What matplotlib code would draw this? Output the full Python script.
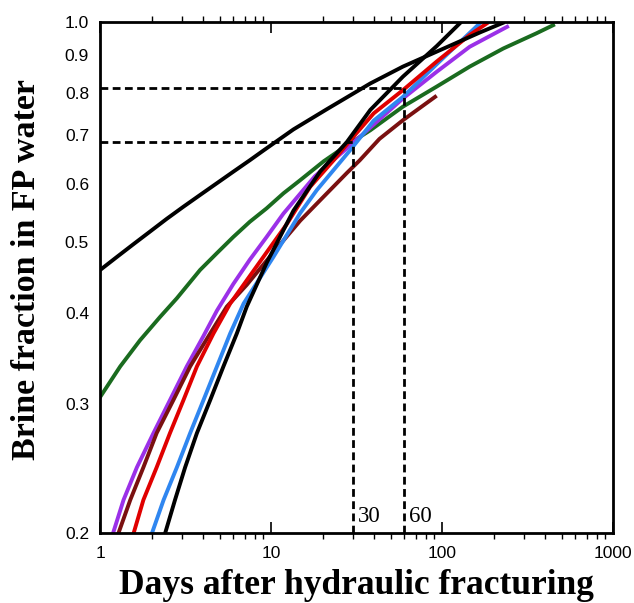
import numpy as np
import matplotlib.pyplot as plt
from matplotlib.ticker import FixedLocator, NullFormatter, LogLocator

# curves (days, brine fraction)
black1_x = [1.0, 1.25, 1.57, 1.96, 2.45, 3.07, 3.84, 4.82, 6.0, 7.5, 9.0, 13.5, 21.2, 38, 59, 93, 167, 226]
black1_y = [0.458, 0.477, 0.497, 0.517, 0.538, 0.559, 0.58, 0.602, 0.624, 0.647, 0.667, 0.713, 0.76,
            0.824, 0.869, 0.911, 0.968, 0.997]

green_x = [1.0, 1.31, 1.71, 2.24, 2.81, 3.84, 4.82, 6.0, 7.5, 9.4, 11.8, 14.7, 20.3, 29, 38, 59, 93,
           145, 228, 356, 446]
green_y = [0.307, 0.338, 0.367, 0.395, 0.419, 0.458, 0.483, 0.508, 0.533, 0.556, 0.583, 0.607, 0.645,
           0.683, 0.711, 0.766, 0.816, 0.869, 0.92, 0.965, 0.99]

purple_x = [1.19, 1.37, 1.64, 2.05, 2.56, 3.21, 4.02, 4.82, 6.0, 7.5, 9.4, 11.8, 18, 29, 59, 93, 145, 240]
purple_y = [0.2, 0.222, 0.246, 0.274, 0.304, 0.338, 0.372, 0.403, 0.438, 0.473, 0.508, 0.547, 0.615,
            0.678, 0.786, 0.855, 0.925, 0.985]

maroon_x = [1.28, 1.50, 1.79, 2.14, 2.68, 3.36, 4.4, 5.5, 7.2, 10.3, 14.8, 20, 27.8, 33, 43, 59, 91]
maroon_y = [0.2, 0.222, 0.246, 0.274, 0.304, 0.338, 0.375, 0.408, 0.437, 0.484, 0.535, 0.575, 0.622,
            0.647, 0.692, 0.734, 0.79]

red_x = [1.57, 1.79, 2.14, 2.56, 3.07, 3.68, 4.6, 5.76, 8.6, 12.4, 16.9, 23.2, 30.3, 39.8, 59, 93, 145, 183]
red_y = [0.2, 0.222, 0.246, 0.274, 0.304, 0.338, 0.375, 0.412, 0.47, 0.53, 0.595, 0.647, 0.697, 0.75,
         0.807, 0.883, 0.96, 0.996]

blue_x = [2.01, 2.35, 2.81, 3.36, 4.02, 4.82, 5.76, 6.9, 10.3, 14.8, 18.5, 29, 39.8, 59, 100, 167]
blue_y = [0.2, 0.222, 0.246, 0.274, 0.304, 0.338, 0.375, 0.412, 0.477, 0.548, 0.589, 0.668, 0.733,
          0.79, 0.89, 0.997]

black2_x = [2.4, 2.74, 3.14, 3.68, 4.4, 5.26, 6.3, 7.2, 9.4, 13.5, 19.4, 27.7, 38, 59, 93, 127]
black2_y = [0.2, 0.222, 0.246, 0.274, 0.304, 0.338, 0.375, 0.408, 0.468, 0.552, 0.625, 0.685, 0.758,
            0.842, 0.927, 0.996]

marks = [30, 60]
levels = [0.686, 0.812]

fig = plt.figure(figsize=(6.34, 6.03), dpi=100)
ax = fig.add_axes([0.158, 0.116, 0.809, 0.8475])

lw = 2.8
ax.plot(green_x, green_y, color='#1a6b1f', lw=lw)
ax.plot(purple_x, purple_y, color='#9b30e8', lw=lw)
ax.plot(maroon_x, maroon_y, color='#7a1010', lw=lw)
ax.plot(blue_x, blue_y, color='#2f86f0', lw=lw)
ax.plot(red_x, red_y, color='#e00000', lw=lw)
ax.plot(black2_x, black2_y, color='black', lw=lw)
ax.plot(black1_x, black1_y, color='black', lw=lw)

# dashed guide lines
for m, lev in zip(marks, levels):
    ax.plot([1, m], [lev, lev], color='black', ls=(0, (2.8, 1.6)), lw=2)
    ax.plot([m, m], [0.2, lev], color='black', ls=(0, (2.8, 1.6)), lw=2)
    ax.text(m * 1.07, 0.207, str(m), fontsize=16.5, family='Liberation Serif')

ax.set_xscale('log')
ax.set_yscale('log')
ax.set_xlim(1, 1000)
ax.set_ylim(0.2, 1.0)

yt = [0.2, 0.3, 0.4, 0.5, 0.6, 0.7, 0.8, 0.9, 1.0]
ax.yaxis.set_major_locator(FixedLocator(yt))
ax.yaxis.set_minor_locator(FixedLocator([]))
ax.set_yticks(yt)
ax.set_yticklabels(['%.1f' % v for v in yt], family='Liberation Sans', fontsize=12.5)
ax.yaxis.set_minor_formatter(NullFormatter())
ax.tick_params(axis='y', length=0, pad=8)

ax.set_xticks([1, 10, 100, 1000])
ax.set_xticklabels(['1', '10', '100', '1000'], family='Liberation Sans', fontsize=12.5)
ax.xaxis.set_minor_locator(LogLocator(base=10, subs=np.arange(2, 10)))
ax.xaxis.set_minor_formatter(NullFormatter())
ax.tick_params(axis='x', which='major', direction='in', length=8, width=1.2, top=True, pad=9)
ax.tick_params(axis='x', which='minor', direction='out', length=4, width=1.0, top=True)

for s in ax.spines.values():
    s.set_linewidth(2)

ax.set_xlabel('Days after hydraulic fracturing', family='Liberation Serif',
              fontweight='bold', fontsize=25.5, labelpad=6)
ax.set_ylabel('Brine fraction in FP water', family='Liberation Serif',
              fontweight='bold', fontsize=24.5)
ax.yaxis.set_label_coords(-0.113, 0.515)

fig.savefig('out.png', dpi=100)
